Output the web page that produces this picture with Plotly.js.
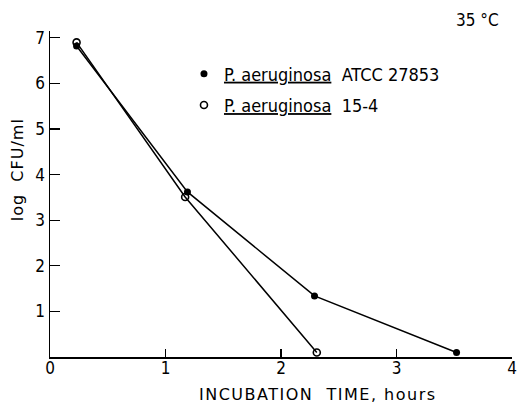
<!DOCTYPE html>
<html>
<head>
<meta charset="utf-8">
<script src="https://cdn.plot.ly/plotly-3.0.1.min.js"></script>
<style>html,body{margin:0;padding:0;background:#fff;}#chart{width:522px;height:404px;}</style>
</head>
<body>
<div id="chart"></div>
<script>
// Data
const timeATCC = [0.23, 1.19, 2.29, 3.52];
const logATCC = [6.82, 3.62, 1.34, 0.10];
const time154 = [0.23, 1.17, 2.31];
const log154 = [6.90, 3.51, 0.10];

const nameATCC = '<u>P. aeruginosa</u>  ATCC 27853';
const name154 = '<u>P. aeruginosa</u>  15-4';
const xTickVals = [0, 1, 2, 3, 4];
const yTickVals = [1, 2, 3, 4, 5, 6, 7];

const FONT = '"DejaVu Sans Condensed", "Liberation Sans Narrow", "Roboto Condensed", "Arial Narrow", "Noto Sans", sans-serif';
const WIDE = '"DejaVu Sans", "Noto Sans", sans-serif';

const traces = [
  {x: timeATCC, y: logATCC, mode: 'lines+markers', showlegend: false,
   line: {color: '#000', width: 1.5},
   marker: {symbol: 'circle', size: 7, color: '#000'}},
  {x: time154, y: log154, mode: 'lines+markers', showlegend: false,
   line: {color: '#000', width: 1.5},
   marker: {symbol: 'circle-open', size: 7, color: '#000', line: {width: 1.6}}},
  {x: [null], y: [null], mode: 'markers', name: nameATCC, legendgroup: 'a',
   marker: {symbol: 'circle', size: 7, color: '#000'}},
  {x: [null], y: [null], mode: 'markers', name: name154, legendgroup: 'b',
   marker: {symbol: 'circle-open', size: 7, color: '#000', line: {width: 1.6}}}
];

const layout = {
  width: 522, height: 404,
  margin: {l: 50, r: 10, t: 31, b: 47},
  paper_bgcolor: '#fff', plot_bgcolor: '#fff',
  font: {family: FONT, size: 15, color: '#000'},
  xaxis: {
    range: [0, 4], tickvals: xTickVals, ticktext: xTickVals.map(String),
    ticks: 'inside', ticklen: 8, tickwidth: 1.2, tickcolor: '#000',
    showline: true, linecolor: '#000', linewidth: 1.5,
    showgrid: false, zeroline: false, tickfont: {size: 17},
    ticklabelstandoff: -5
  },
  yaxis: {
    range: [0, 7.15], tickvals: yTickVals, ticktext: yTickVals.map(String),
    ticks: 'inside', ticklen: 10, tickwidth: 1.2, tickcolor: '#000',
    showline: true, linecolor: '#000', linewidth: 1.5,
    showgrid: false, zeroline: false, tickfont: {size: 17}
  },
  legend: {
    x: 0.29, y: 0.925, xanchor: 'left', yanchor: 'top',
    bgcolor: 'rgba(0,0,0,0)', font: {size: 18}, traceorder: 'grouped',
    tracegroupgap: 5, itemwidth: 30
  },
  annotations: [
    {text: '<span style="letter-spacing:1.5px">INCUBATION  TIME, hours</span>', xref: 'paper', yref: 'paper',
     x: 0.58, y: -0.115, xanchor: 'center', yanchor: 'middle', showarrow: false,
     font: {size: 16, family: WIDE}},
    {text: '<span style="letter-spacing:1px">log  CFU/ml</span>', xref: 'paper', yref: 'paper', textangle: -90,
     x: -0.07, y: 0.575, xanchor: 'center', yanchor: 'middle', showarrow: false,
     font: {size: 16, family: WIDE}},
    {text: '35 °C', xref: 'paper', yref: 'paper',
     x: 0.925, y: 1.035, xanchor: 'center', yanchor: 'middle', showarrow: false,
     font: {size: 17}}
  ]
};

Plotly.newPlot('chart', traces, layout, {displayModeBar: false, staticPlot: true});
</script>
</body>
</html>
